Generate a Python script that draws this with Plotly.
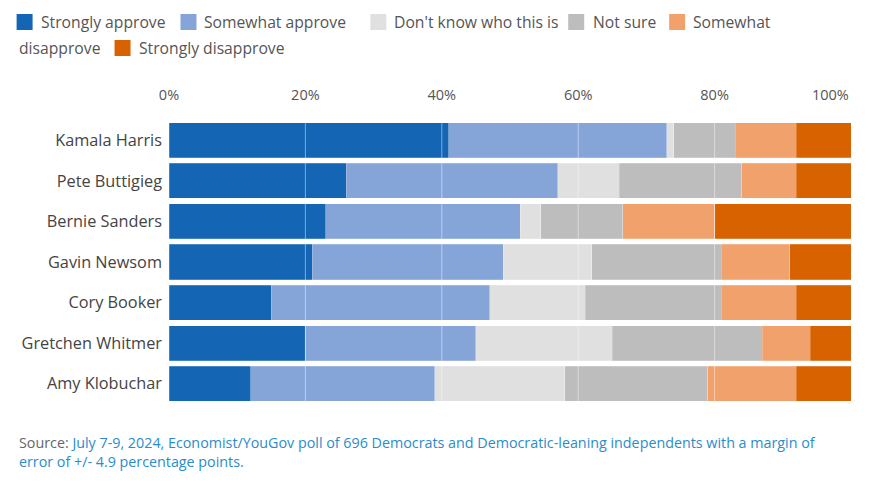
import plotly.graph_objects as go

candidates = ["Kamala Harris", "Pete Buttigieg", "Bernie Sanders", "Gavin Newsom",
              "Cory Booker", "Gretchen Whitmer", "Amy Klobuchar"]
series_names = ["Strongly approve", "Somewhat approve", "Don't know who this is",
                "Not sure", "Somewhat disapprove", "Strongly disapprove"]
strongly_approve = [41, 26, 23, 21, 15, 20, 12]
somewhat_approve = [32, 31, 28.5, 28, 32, 25, 27]
dont_know = [1, 9, 3, 13, 14, 20, 19]
not_sure = [9, 18, 12, 19, 20, 22, 21]
somewhat_disapprove = [9, 8, 13.5, 10, 11, 7, 13]
strongly_disapprove = [8, 8, 20, 9, 8, 6, 8]
tick_values = [0, 20, 40, 60, 80]
tick_labels = ["0%", "20%", "40%", "60%", "80%"]
last_tick_value = 100
last_tick_label = "100%"

series_values = [strongly_approve, somewhat_approve, dont_know, not_sure,
                 somewhat_disapprove, strongly_disapprove]
colors = ["#1466b4", "#85a4d8", "#e0e0e0", "#bdbdbd", "#f1a26c", "#d96200"]

FONT = "Open Sans"
W, H = 880, 489
ML, MR, MT, MB = 168.5, 29, 120, 85
PW = W - ML - MR
PH = H - MT - MB


def px(x):
    return (x - ML) / PW


def py(y):
    return (H - MB - y) / PH


fig = go.Figure()
for name, vals, col in zip(series_names, series_values, colors):
    fig.add_trace(go.Bar(
        y=candidates, x=vals, name=name, orientation="h",
        marker=dict(color=col, line=dict(color="rgba(255,255,255,0.35)", width=0.6)),
        showlegend=False, hovertemplate="%{y}: %{x}%<extra>" + name + "</extra>",
    ))

shapes = []
# gridlines drawn above bars
for v in tick_values[1:]:
    shapes.append(dict(type="line", xref="x", yref="paper", x0=v, x1=v, y0=0, y1=1,
                       line=dict(color="rgba(255,255,255,0.45)", width=1), layer="above"))

annotations = []
# custom legend (wrapping like the reference)
legend_items = [
    (16, 38, 22, "Strongly approve", 0),
    (180, 202, 22, "Somewhat approve", 1),
    (370, 392, 22, "Don't know who this is", 2),
    (568, 591, 22, "Not sure", 3),
    (669, 691, 22, "Somewhat", 4),
    (None, 16, 48, "disapprove", None),
    (114, 136, 48, "Strongly disapprove", 5),
]
for sqx, tx, yc, text, ci in legend_items:
    if ci is not None:
        shapes.append(dict(type="rect", xref="paper", yref="paper",
                           x0=px(sqx), x1=px(sqx + 16), y0=py(yc - 8), y1=py(yc + 8),
                           fillcolor=colors[ci], line=dict(width=0), layer="above"))
    annotations.append(dict(x=px(tx), y=py(yc), xref="paper", yref="paper",
                            text=text, showarrow=False, xanchor="left", yanchor="middle",
                            font=dict(family=FONT, size=15.7, color="#555555")))

annotations.append(dict(x=last_tick_value, y=py(94.5), xref="x", yref="paper",
                        text=last_tick_label, showarrow=False, xanchor="right",
                        yanchor="middle", font=dict(family=FONT, size=14.5, color="#555555")))

annotations.append(dict(
    x=px(16), y=py(452), xref="paper", yref="paper", xanchor="left", yanchor="middle",
    align="left", showarrow=False,
    text=("<span style='color:#666666'>Source: </span>"
          "<span style='color:#2a8ccc'>July 7-9, 2024, Economist/YouGov poll of 696 Democrats "
          "and Democratic-leaning independents with a margin of<br>error of +/- 4.9 percentage points.</span>"),
    font=dict(family=FONT, size=14.3, color="#2a8ccc"),
))

fig.update_layout(
    width=W, height=H,
    margin=dict(l=ML, r=MR, t=MT, b=MB, pad=0),
    barmode="stack", bargap=0.135,
    plot_bgcolor="white", paper_bgcolor="white",
    showlegend=False,
    font=dict(family=FONT, size=14, color="#444444"),
    xaxis=dict(range=[0, 100], side="top", tickvals=tick_values, ticktext=tick_labels,
               showgrid=False, zeroline=False, showline=False, ticks="",
               ticklabelstandoff=16, tickfont=dict(family=FONT, size=14.5, color="#555555"),
               fixedrange=True),
    yaxis=dict(autorange="reversed", showgrid=False, zeroline=False, showline=False,
               ticks="", ticklabelstandoff=6,
               tickfont=dict(family=FONT, size=16.3, color="#444444"), fixedrange=True),
    shapes=shapes, annotations=annotations,
)

fig.write_html("out.html", config={"displayModeBar": False},
               post_script="document.body.style.margin='0';")
